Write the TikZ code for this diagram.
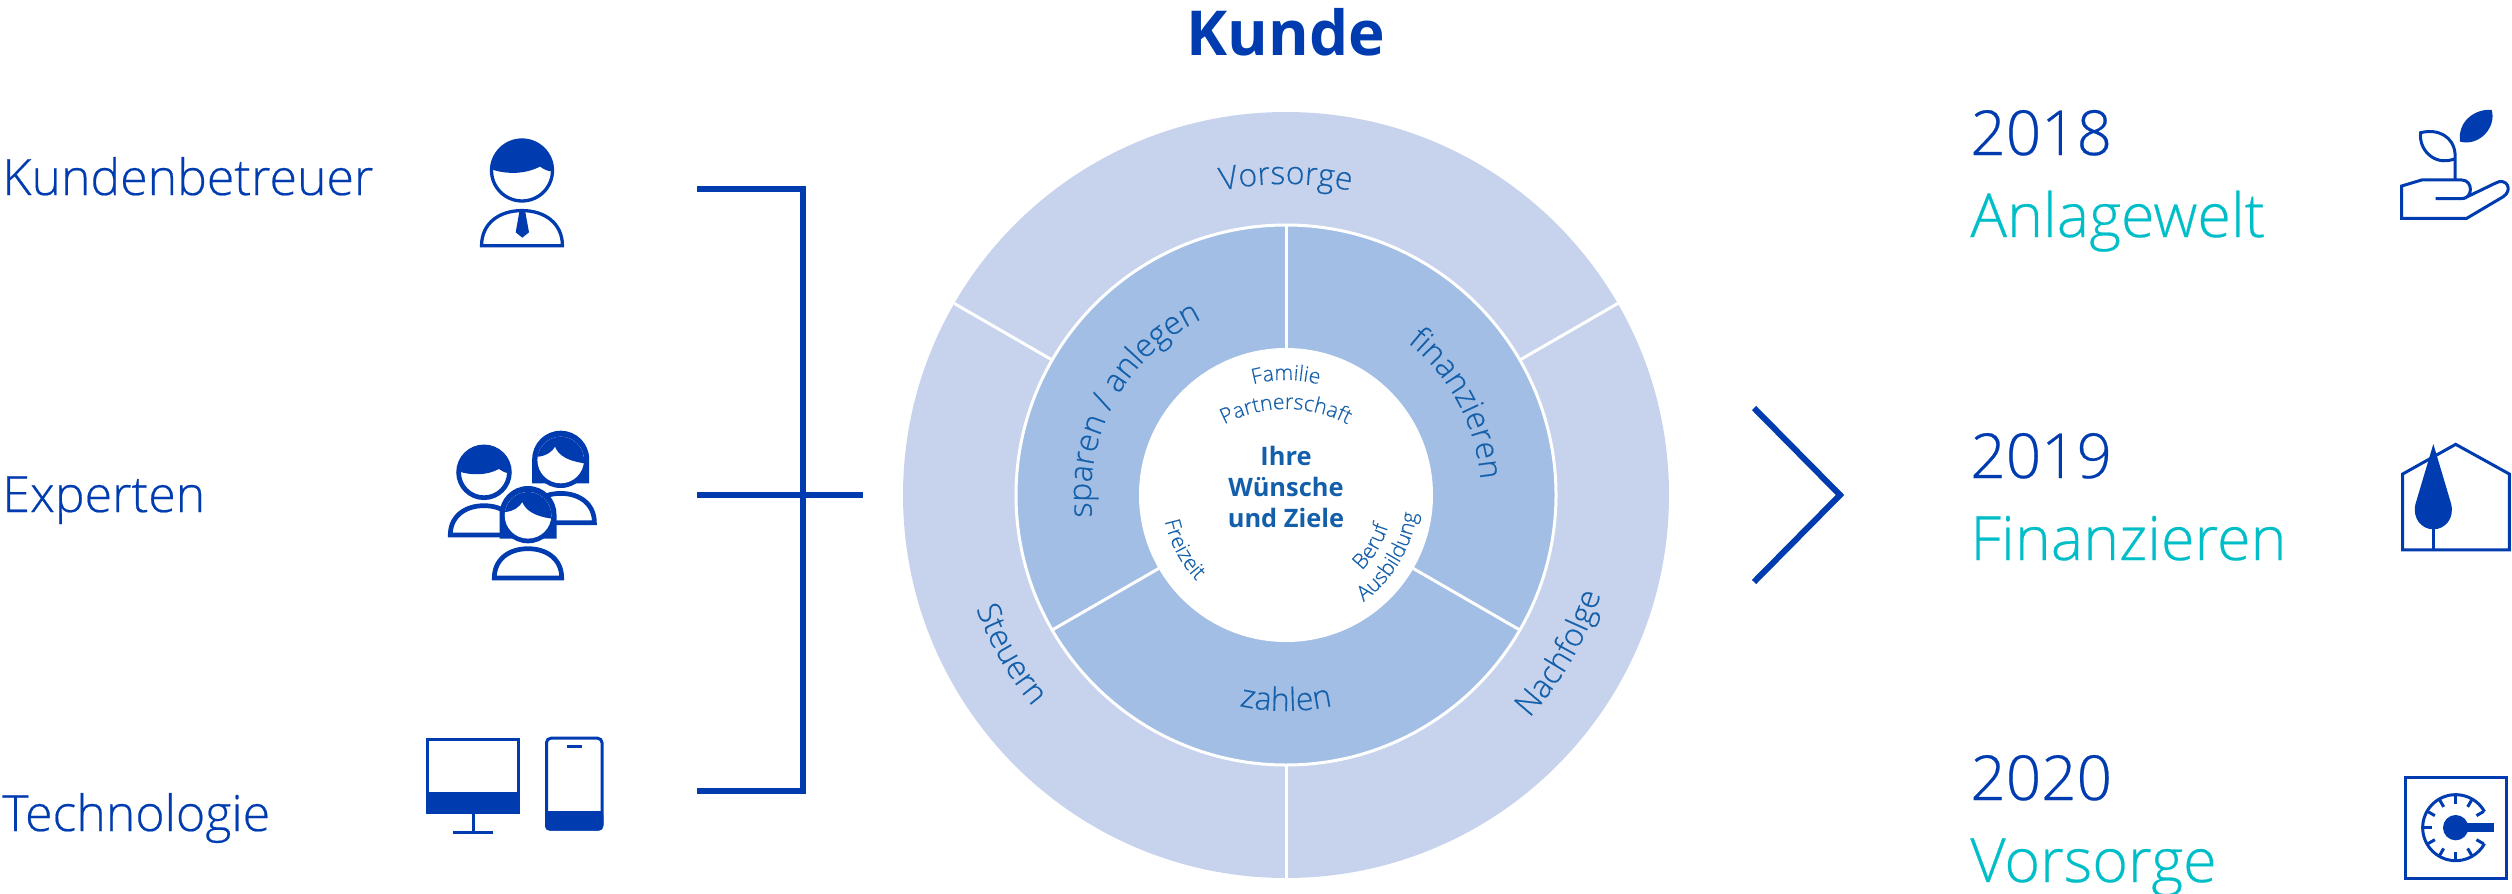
\documentclass[tikz,border=0pt]{standalone}
\usepackage{fontspec}
\setmainfont{Open Sans}
\newfontfamily\lightfont{Open Sans Light}[FakeBold=.4]
\usetikzlibrary{positioning,decorations.text}
\definecolor{kblue}{RGB}{0,60,175}
\definecolor{rblue}{RGB}{20,95,170}
\definecolor{kteal}{RGB}{0,190,200}
\definecolor{ringa}{RGB}{199,211,237}
\definecolor{ringb}{RGB}{162,190,229}
\newcommand{\lblfont}{\lightfont\fontsize{25}{30}\selectfont}
\newcommand{\arcfont}{\lightfont\fontsize{16}{20}\selectfont}
\newcommand{\smallfont}{\lightfont\fontsize{10.6}{13}\selectfont}
\tikzset{%
  lbl/.style={text=kblue,anchor=base west,inner sep=0pt,font=\lblfont},
  year/.style={text=kblue,anchor=base west,inner sep=0pt,font=\lightfont\fontsize{31}{36}\selectfont},
  topic/.style={text=kteal,anchor=base west,inner sep=0pt,font=\lightfont\fontsize{30.5}{36}\selectfont},
  bar/.style={draw=kblue,line width=3pt,miter limit=10},
  sep/.style={draw=white,line width=1.5pt},
  ringtext/.style={decorate,decoration={text along path,text align=center,text color=rblue,text={|\arcfont|#1}}},
  tinytext/.style={decorate,decoration={text along path,text align=center,text color=rblue,text={|\smallfont|#1}}},
  line/.style={draw=kblue,line width=1.5pt},
  pics/man/.style={code={
    \draw[draw=kblue,fill=white] (0,0) circle (25.4);
    \fill[kblue] (-25.38,-.9) .. controls (-12,3.5) and (3,3) .. (15,-3.3)
      .. controls (18,-1) and (21,.5) .. (25.38,.9) arc (2:-178:25.4) -- cycle;
    \draw[draw=kblue,fill=white] (-33.7,62.7) .. controls (-33.7,44) and (-19,33.4) .. (0,33.4)
      .. controls (19,33.4) and (33.7,44) .. (33.7,62.7) -- cycle;
  }},
  pics/woman/.style={code={
    \draw[draw=kblue,fill=white] (-33.7,62.7) .. controls (-33.7,44) and (-19,33.4) .. (0,33.4)
      .. controls (19,33.4) and (33.7,44) .. (33.7,62.7) -- cycle;
    \fill[kblue] (-28.5,23.3) -- (-28.5,-.8) arc (180:360:28.5) -- (28.5,23.3) -- cycle;
    \fill[kblue] (0,0) circle (28);
    \fill[white] (0,0) circle (23.3);
    \fill[kblue] (-23.07,-3.24) .. controls (-14,-4) and (-8,-9) .. (-5.7,-13.3)
      .. controls (-2,-4) and (8,1) .. (23.07,3.24) arc (8:-172:23.3) -- cycle;
  }}
}

\begin{document}
\begin{tikzpicture}[x=.5pt,y=-.5pt]
  \useasboundingbox (0,0) rectangle (2512,894);

  \coordinate (hub) at (1286,495);
  \node[text=kblue,inner sep=0pt,font=\fontsize{31}{36}\selectfont\bfseries] (kunde) at (1286,32) {Kunde};

  % left column
  \node[lbl] (kb) at (2,195) {Kundenbetreuer};
  \node[lbl] (ex) at (2,512) {Experten};
  \node[lbl] (te) at (2,831) {Technologie};

  \pic[line width=1.65pt,scale=1.2] at (522,170.5) {man};
  \fill[kblue] (519.3,212) -- (525.3,212) -- (529,232.3) -- (522.3,237.7) -- (515.7,232.3) -- cycle;

  \pic[line width=2.35pt] at (560.7,460) {woman};
  \pic[line width=2.35pt] at (484,472.3) {man};
  \pic[line width=2.35pt] at (528,515.3) {woman};

  \draw[line] (427.5,739.8) rectangle (518.5,812.8);
  \fill[kblue] (426,792.3) rectangle (520,814.3);
  \draw[line] (473,814) -- (473,832.7);
  \draw[line] (453,832.7) -- (492.7,832.7);
  \draw[line,rounded corners=2.2pt] (546.5,738.2) rectangle (602,829.2);
  \fill[kblue,rounded corners=2.2pt] (545,811.3) rectangle (603.3,830.7);
  \fill[kblue] (545,811.3) rectangle (603.3,820);
  \fill[kblue] (567,745) rectangle (582,748);

  % bracket
  \coordinate (bra) at (697,189);
  \coordinate (brb) at (803,189);
  \coordinate (brc) at (803,791);
  \coordinate (brd) at (697,791);
  \coordinate (bre) at (697,495);
  \coordinate (brf) at (863,495);
  \draw[bar] (bra) -- (brb) -- (brc) -- (brd);
  \draw[bar] (bre) -- (brf);

  % rings
  \fill[ringa] (hub) circle (383);
  \draw[sep,fill=ringb] (hub) circle (270);
  \draw[sep,shift={(hub)}] (-30:270) -- (-30:383);
  \draw[sep,shift={(hub)}] (210:270) -- (210:383);
  \draw[sep,shift={(hub)}] (90:270) -- (90:383);
  \draw[sep,shift={(hub)}] (-90:147) -- (-90:270);
  \draw[sep,shift={(hub)}] (30:147) -- (30:270);
  \draw[sep,shift={(hub)}] (150:147) -- (150:270);
  \fill[white] (hub) circle (147);

  \path[shift={(hub)},ringtext={Vorsorge}] (235:311) arc (235:305:311);
  \path[shift={(hub)},ringtext={Steuern}] (190:330) arc (190:110:330);
  \path[shift={(hub)},ringtext={Nachfolge}] (70:330) arc (70:-10:330);
  \path[shift={(hub)},ringtext={sparen / anlegen}] (140:195) arc (140:278:195);
  \path[shift={(hub)},ringtext={finanzieren}] (282:195) arc (282:382:195);
  \path[shift={(hub)},ringtext={zahlen}] (130:216) arc (130:50:216);

  \coordinate (famc) at (1286,506);
  \coordinate (parc) at (1286,540);
  \path[shift={(famc)},tinytext={Familie}] (235:126) arc (235:305:126);
  \path[shift={(parc)},tinytext={Partnerschaft}] (220:131) arc (220:320:131);
  \path[shift={(hub)},tinytext={Freizeit}] (195:124) arc (195:109:124);
  \path[shift={(hub)},tinytext={Beruf}] (80:107) arc (80:-18:107);
  \path[shift={(hub)},tinytext={Ausbildung}] (85:132) arc (85:-23:132);

  \node[text=rblue,inner sep=0pt,align=center,font=\fontsize{12.7}{15.5}\selectfont\bfseries] (ziele) at (1286,487) {Ihre\\Wünsche\\und Ziele};

  % chevron
  \coordinate (cha) at (1754,408);
  \coordinate (chb) at (1840,495);
  \coordinate (chc) at (1754,582);
  \draw[bar] (cha) -- (chb) -- (chc);

  % right column
  \node[year] (y18) at (1970,155) {2018};
  \node[topic,below=41pt of y18.base west,anchor=base west] (t18) {Anlagewelt};
  \node[year] (y19) at (1970,478) {2019};
  \node[topic,below=41pt of y19.base west,anchor=base west] (t19) {Finanzieren};
  \node[year] (y20) at (1970,800) {2020};
  \node[topic,below=41pt of y20.base west,anchor=base west] (t20) {Vorsorge};

  \begin{scope}[shift={(2370,90)},scale=.3333]
    \draw[line] (255,270) -- (255,190) .. controls (250,140) and (205,115) .. (152,128)
      .. controls (145,175) and (190,230) .. (253,207);
    \draw[line,line join=miter] (197,326) -- (275,326) .. controls (310,326) and (310,270) .. (275,270) -- (155,270) -- (95,288) -- (95,385) -- (290,385) -- (400,320)
      .. controls (430,300) and (410,260) .. (375,280) -- (280,326);
    \fill[kblue] (365,60) .. controls (320,55) and (262,90) .. (270,155) .. controls (330,170) and (380,110) .. (365,60) -- cycle;
  \end{scope}

  \begin{scope}[shift={(2370,420)},scale=.3333]
    \draw[line] (98,390) -- (98,162) -- (257,73) -- (418,162) -- (418,390) -- cycle;
    \fill[kblue] (190,72) -- (137,250) .. controls (125,295) and (155,328) .. (190,328)
      .. controls (225,328) and (255,295) .. (243,250) -- cycle;
    \draw[line] (190,328) -- (190,390);
  \end{scope}

  \begin{scope}[shift={(2370,750)},scale=.3333]
    \draw[line] (105,82) rectangle (410,385);
    \coordinate (dial) at (257,233);
    \draw[line,shift={(dial)}] (-29:99) arc (-29:-331:99);
    \foreach \a in {30,60,...,330}
      \draw[line,shift={(dial)}] (\a:97) -- (\a:72);
    \fill[kblue] (dial) circle (38);
    \fill[kblue] (280,218) rectangle (372,247);
  \end{scope}
\end{tikzpicture}
\end{document}
